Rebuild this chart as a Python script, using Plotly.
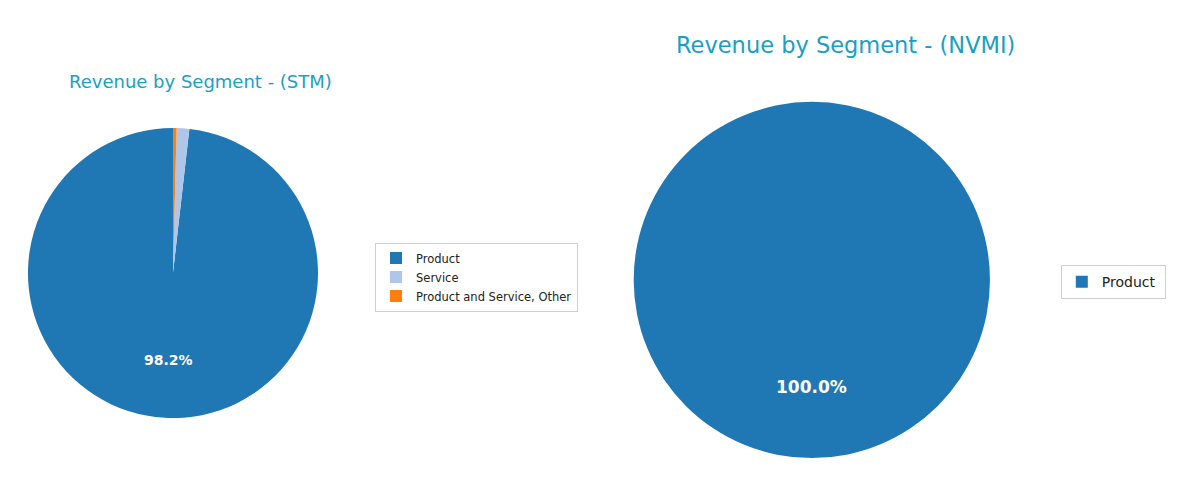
import math
import plotly.graph_objects as go

# STM segments
stm_labels = ["Product", "Service", "Product and Service, Other"]
stm_values = [98.2, 1.4, 0.4]

# NVMI segments (trailing space keeps it out of the STM legend entry)
nvmi_labels = ["Product "]
nvmi_values = [100.0]

seg_colors = ["#1f77b4", "#aec7e8", "#ff7f0e"]
title_color = "#1a9fc4"
W, H = 1200, 492

stm_dom = dict(x=[0.0233, 0.265], y=[0.150, 0.740])
nvmi_dom = dict(x=[0.528, 0.825], y=[0.069, 0.793])


def first_rotation(vals):
    # matplotlib style: first slice starts at 12 o'clock going counterclockwise
    return 360 * (1 - vals[0] / sum(vals))


def pct_label(vals, dom, size):
    # put the first slice's percent at 0.6 of the radius on its bisector
    frac = vals[0] / sum(vals)
    ang = math.radians(90 + 180 * frac)
    cx = sum(dom["x"]) / 2
    cy = sum(dom["y"]) / 2
    r = (dom["x"][1] - dom["x"][0]) * W / 2
    return dict(text="%.1f%%" % (100 * frac),
                x=cx + 0.6 * r * math.cos(ang) / W,
                y=cy + 0.6 * r * math.sin(ang) / H,
                xref="paper", yref="paper", showarrow=False,
                xanchor="center", yanchor="middle",
                font=dict(size=size, color="white", weight="bold"))


fig = go.Figure()

fig.add_trace(go.Pie(
    labels=stm_labels, values=stm_values, sort=False,
    direction="counterclockwise", rotation=first_rotation(stm_values),
    marker=dict(colors=seg_colors, line=dict(width=0)),
    textinfo="none", domain=stm_dom,
    legend="legend", hoverinfo="label+percent",
))

fig.add_trace(go.Pie(
    labels=nvmi_labels, values=nvmi_values, sort=False,
    direction="counterclockwise", rotation=0,
    marker=dict(colors=seg_colors[:1], line=dict(width=0)),
    textinfo="none", domain=nvmi_dom,
    legend="legend2", hoverinfo="label+percent",
))

fig.update_layout(
    width=W, height=H,
    margin=dict(l=0, r=0, t=0, b=0),
    paper_bgcolor="white", plot_bgcolor="white",
    font=dict(family="DejaVu Sans", color="#222"),
    legend=dict(x=0.3125, y=0.507, xanchor="left", yanchor="top",
                bordercolor="#d0d0d0", borderwidth=1,
                font=dict(size=11.5), itemwidth=30),
    legend2=dict(x=0.884, y=0.461, xanchor="left", yanchor="top",
                 bordercolor="#d0d0d0", borderwidth=1,
                 font=dict(size=14), itemwidth=30),
    annotations=[
        dict(text="Revenue by Segment - (STM)", x=200 / W, y=1 - 82 / H,
             xref="paper", yref="paper", xanchor="center", yanchor="middle",
             showarrow=False, font=dict(size=18, color=title_color)),
        dict(text="Revenue by Segment - (NVMI)", x=845 / W, y=1 - 45 / H,
             xref="paper", yref="paper", xanchor="center", yanchor="middle",
             showarrow=False, font=dict(size=22.5, color=title_color)),
        pct_label(stm_values, stm_dom, 14),
        pct_label(nvmi_values, nvmi_dom, 17),
    ],
)

fig.write_html("out.html", config={"displayModeBar": False},
               post_script="document.body.style.margin='0';")
